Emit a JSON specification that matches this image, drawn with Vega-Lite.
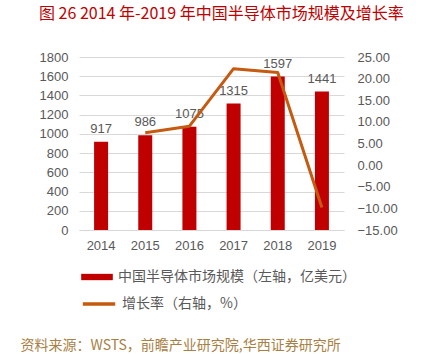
{
  "$schema": "https://vega.github.io/schema/vega-lite/v6.json",
  "width": 265,
  "height": 173,
  "autosize": {"type": "none"},
  "padding": {"left": 79, "top": 57, "right": 83, "bottom": 124},
  "background": "white",
  "title": {
    "text": "图 26 2014 年-2019 年中国半导体市场规模及增长率",
    "anchor": "start",
    "frame": "group",
    "dx": -40,
    "offset": 29,
    "font": "Noto Sans CJK SC",
    "fontSize": 16,
    "fontWeight": "normal",
    "color": "#C00000"
  },
  "data": {
    "values": [
      {"year": "2014", "size": 917, "growth": null},
      {"year": "2015", "size": 986, "growth": 7.5},
      {"year": "2016", "size": 1075, "growth": 9.0},
      {"year": "2017", "size": 1315, "growth": 22.3},
      {"year": "2018", "size": 1597, "growth": 21.4},
      {"year": "2019", "size": 1441, "growth": -9.8}
    ]
  },
  "encoding": {
    "x": {
      "field": "year",
      "type": "nominal",
      "scale": {"paddingInner": 0, "paddingOuter": 0},
      "axis": {
        "labelAngle": 0,
        "ticks": false,
        "domain": true,
        "domainColor": "#D9D9D9",
        "labelPadding": 9,
        "labelFont": "Liberation Sans",
        "labelFontSize": 13,
        "labelColor": "#595959",
        "title": "资料来源：WSTS，前瞻产业研究院,华西证券研究所",
        "titleX": -59,
        "titleY": 115,
        "titleAlign": "left",
        "titleBaseline": "middle",
        "titleFont": "Noto Sans CJK SC",
        "titleFontSize": 14,
        "titleFontWeight": "normal",
        "titleColor": "#A88043"
      }
    }
  },
  "layer": [
    {
      "encoding": {
        "y": {
          "field": "size",
          "type": "quantitative",
          "scale": {"domain": [0, 1800], "nice": false},
          "axis": {
            "values": [0, 200, 400, 600, 800, 1000, 1200, 1400, 1600, 1800],
            "format": "d",
            "labelOverlap": false,
            "title": null,
            "domain": false,
            "ticks": false,
            "gridColor": "#D9D9D9",
            "labelPadding": 11,
            "labelFont": "Liberation Sans",
            "labelFontSize": 13,
            "labelColor": "#595959"
          }
        }
      },
      "layer": [
        {
          "mark": {"type": "bar", "width": 14},
          "encoding": {
            "fill": {
              "datum": "中国半导体市场规模（左轴，亿美元）",
              "type": "nominal",
              "scale": {"range": ["#C00000"]},
              "legend": {
                "orient": "none",
                "legendX": 2,
                "legendY": 204,
                "title": null,
                "padding": 0,
                "symbolType": "M-1,-0.2H1V0.2H-1Z",
                "symbolSize": 1000,
                "symbolStrokeWidth": 0,
                "labelOffset": 5,
                "labelFont": "Noto Sans CJK SC",
                "labelFontSize": 14,
                "labelColor": "#595959",
                "labelLimit": 400
              }
            }
          }
        },
        {
          "mark": {"type": "text", "baseline": "bottom", "dy": -6, "font": "Liberation Sans", "fontSize": 13, "color": "#595959"},
          "encoding": {
            "text": {"field": "size", "type": "quantitative"}
          }
        }
      ]
    },
    {
      "mark": {"type": "line", "strokeWidth": 3, "strokeJoin": "round", "strokeCap": "butt"},
      "encoding": {
        "y": {
          "field": "growth",
          "type": "quantitative",
          "scale": {"domain": [-15, 25], "nice": false},
          "axis": {
            "orient": "right",
            "values": [-15, -10, -5, 0, 5, 10, 15, 20, 25],
            "format": ".2f",
            "labelOverlap": false,
            "title": null,
            "grid": false,
            "domain": false,
            "ticks": false,
            "labelPadding": 13,
            "labelFont": "Liberation Sans",
            "labelFontSize": 13,
            "labelColor": "#595959"
          }
        },
        "stroke": {
          "datum": "增长率（右轴，%）",
          "type": "nominal",
          "scale": {"range": ["#C55A11"]},
          "legend": {
            "orient": "none",
            "legendX": 2,
            "legendY": 229,
            "title": null,
            "padding": 0,
            "symbolType": "stroke",
            "symbolSize": 1050,
            "symbolStrokeWidth": 3.5,
            "labelOffset": 5,
            "labelFont": "Noto Sans CJK SC",
            "labelFontSize": 14,
            "labelColor": "#595959",
            "labelLimit": 400
          }
        }
      }
    }
  ],
  "resolve": {"scale": {"y": "independent"}},
  "config": {
    "view": {"stroke": null},
    "axis": {"labelFontWeight": "normal"}
  }
}
